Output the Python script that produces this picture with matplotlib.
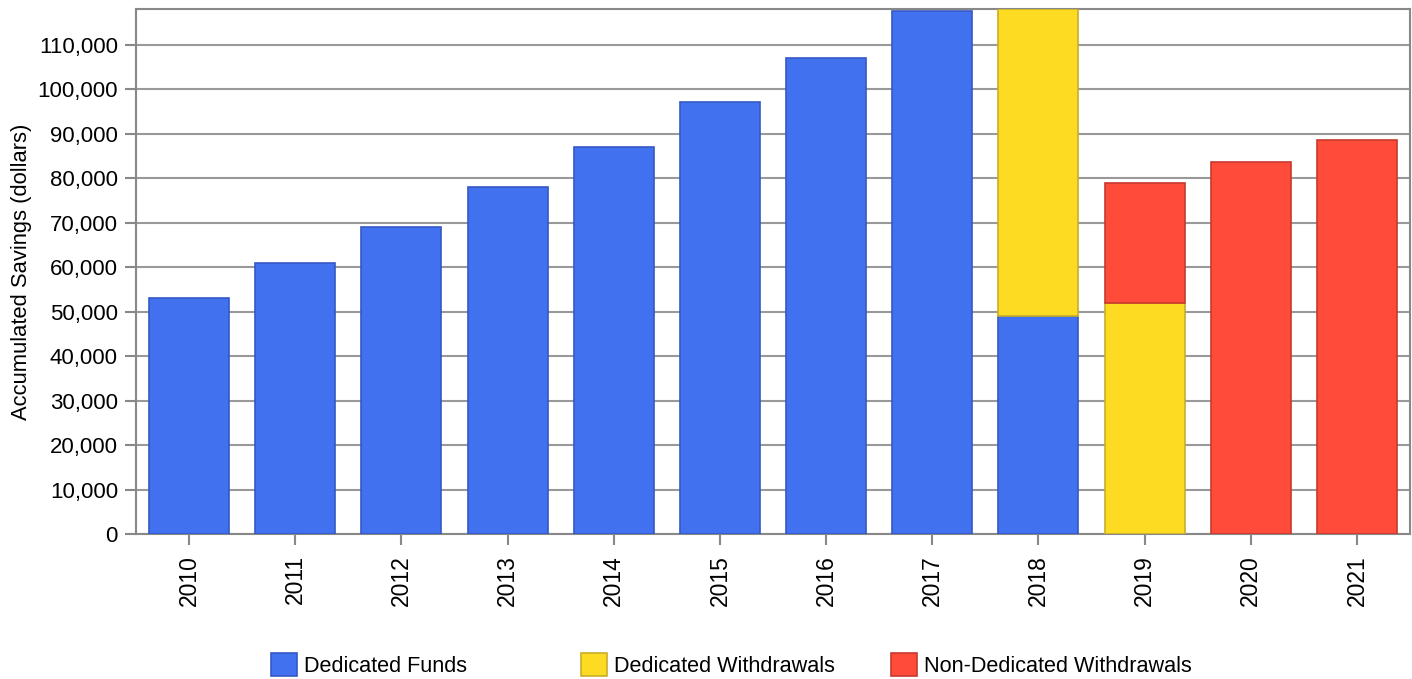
import matplotlib.pyplot as plt
from matplotlib.patches import Patch
from matplotlib.ticker import FuncFormatter

plt.rcParams['font.family'] = ['Liberation Sans', 'DejaVu Sans']

years = ['2010', '2011', '2012', '2013', '2014', '2015',
         '2016', '2017', '2018', '2019', '2020', '2021']
dedicated_funds = [53000, 61000, 69000, 78000, 87000, 97000,
                   107000, 117500, 49000, 0, 0, 0]
dedicated_withdrawals = [0, 0, 0, 0, 0, 0, 0, 0, 69000, 52000, 0, 0]
non_dedicated_withdrawals = [0, 0, 0, 0, 0, 0, 0, 0, 0, 27000, 83500, 88500]

blue, blue_edge = '#4271EF', '#3558C4'
yellow, yellow_edge = '#FDDB22', '#C9AE2A'
red, red_edge = '#FF4B3A', '#C83A2E'

fig = plt.figure(figsize=(14.12, 6.79), dpi=100)
ax = fig.add_axes([136 / 1412, 1 - 534 / 679, 1274 / 1412, 525 / 679])

x = list(range(len(years)))
w = 0.755
bottom2 = dedicated_funds
bottom3 = [a + b for a, b in zip(dedicated_funds, dedicated_withdrawals)]


def stack(values, bottoms, fc, ec):
    idx = [i for i, v in enumerate(values) if v > 0]
    ax.bar([x[i] for i in idx], [values[i] for i in idx], w,
           bottom=[bottoms[i] for i in idx], color=fc, edgecolor=ec,
           linewidth=1.2, zorder=3)


stack(dedicated_funds, [0] * len(years), blue, blue_edge)
stack(dedicated_withdrawals, bottom2, yellow, yellow_edge)
stack(non_dedicated_withdrawals, bottom3, red, red_edge)

ax.set_xlim(-0.5, len(years) - 0.5)
ax.set_ylim(0, 118000)
ax.set_yticks(range(0, 110001, 10000))
ax.yaxis.set_major_formatter(FuncFormatter(lambda v, p: f'{int(v):,}'))
ax.set_xticks(x)
ax.set_xticklabels(years, rotation=90)
ax.tick_params(axis='both', labelsize=16, color='#888888', width=1.5, length=8)
ax.tick_params(axis='x', pad=7, labelsize=16.5)
ax.tick_params(axis='y', pad=5)
ax.grid(axis='y', color='#999999', linewidth=1.5, zorder=0)
for s in ax.spines.values():
    s.set_color('#888888')
    s.set_linewidth(1.5)
ax.set_ylabel('Accumulated Savings (dollars)', fontsize=15.8, labelpad=4)

entries = [('Dedicated Funds', blue, blue_edge),
           ('Dedicated Withdrawals', yellow, yellow_edge),
           ('Non-Dedicated Withdrawals', red, red_edge)]
xs = [271, 581, 891]
for (label, fc, ec), px in zip(entries, xs):
    fig.legend(handles=[Patch(facecolor=fc, edgecolor=ec, linewidth=1.2, label=label)],
               loc='center left', bbox_to_anchor=(px / 1412, 1 - 665 / 679),
               frameon=False, fontsize=15.6, handlelength=1.2, handleheight=1.2,
               handletextpad=0.32, borderpad=0, borderaxespad=0)

fig.savefig('out.png', dpi=100)
